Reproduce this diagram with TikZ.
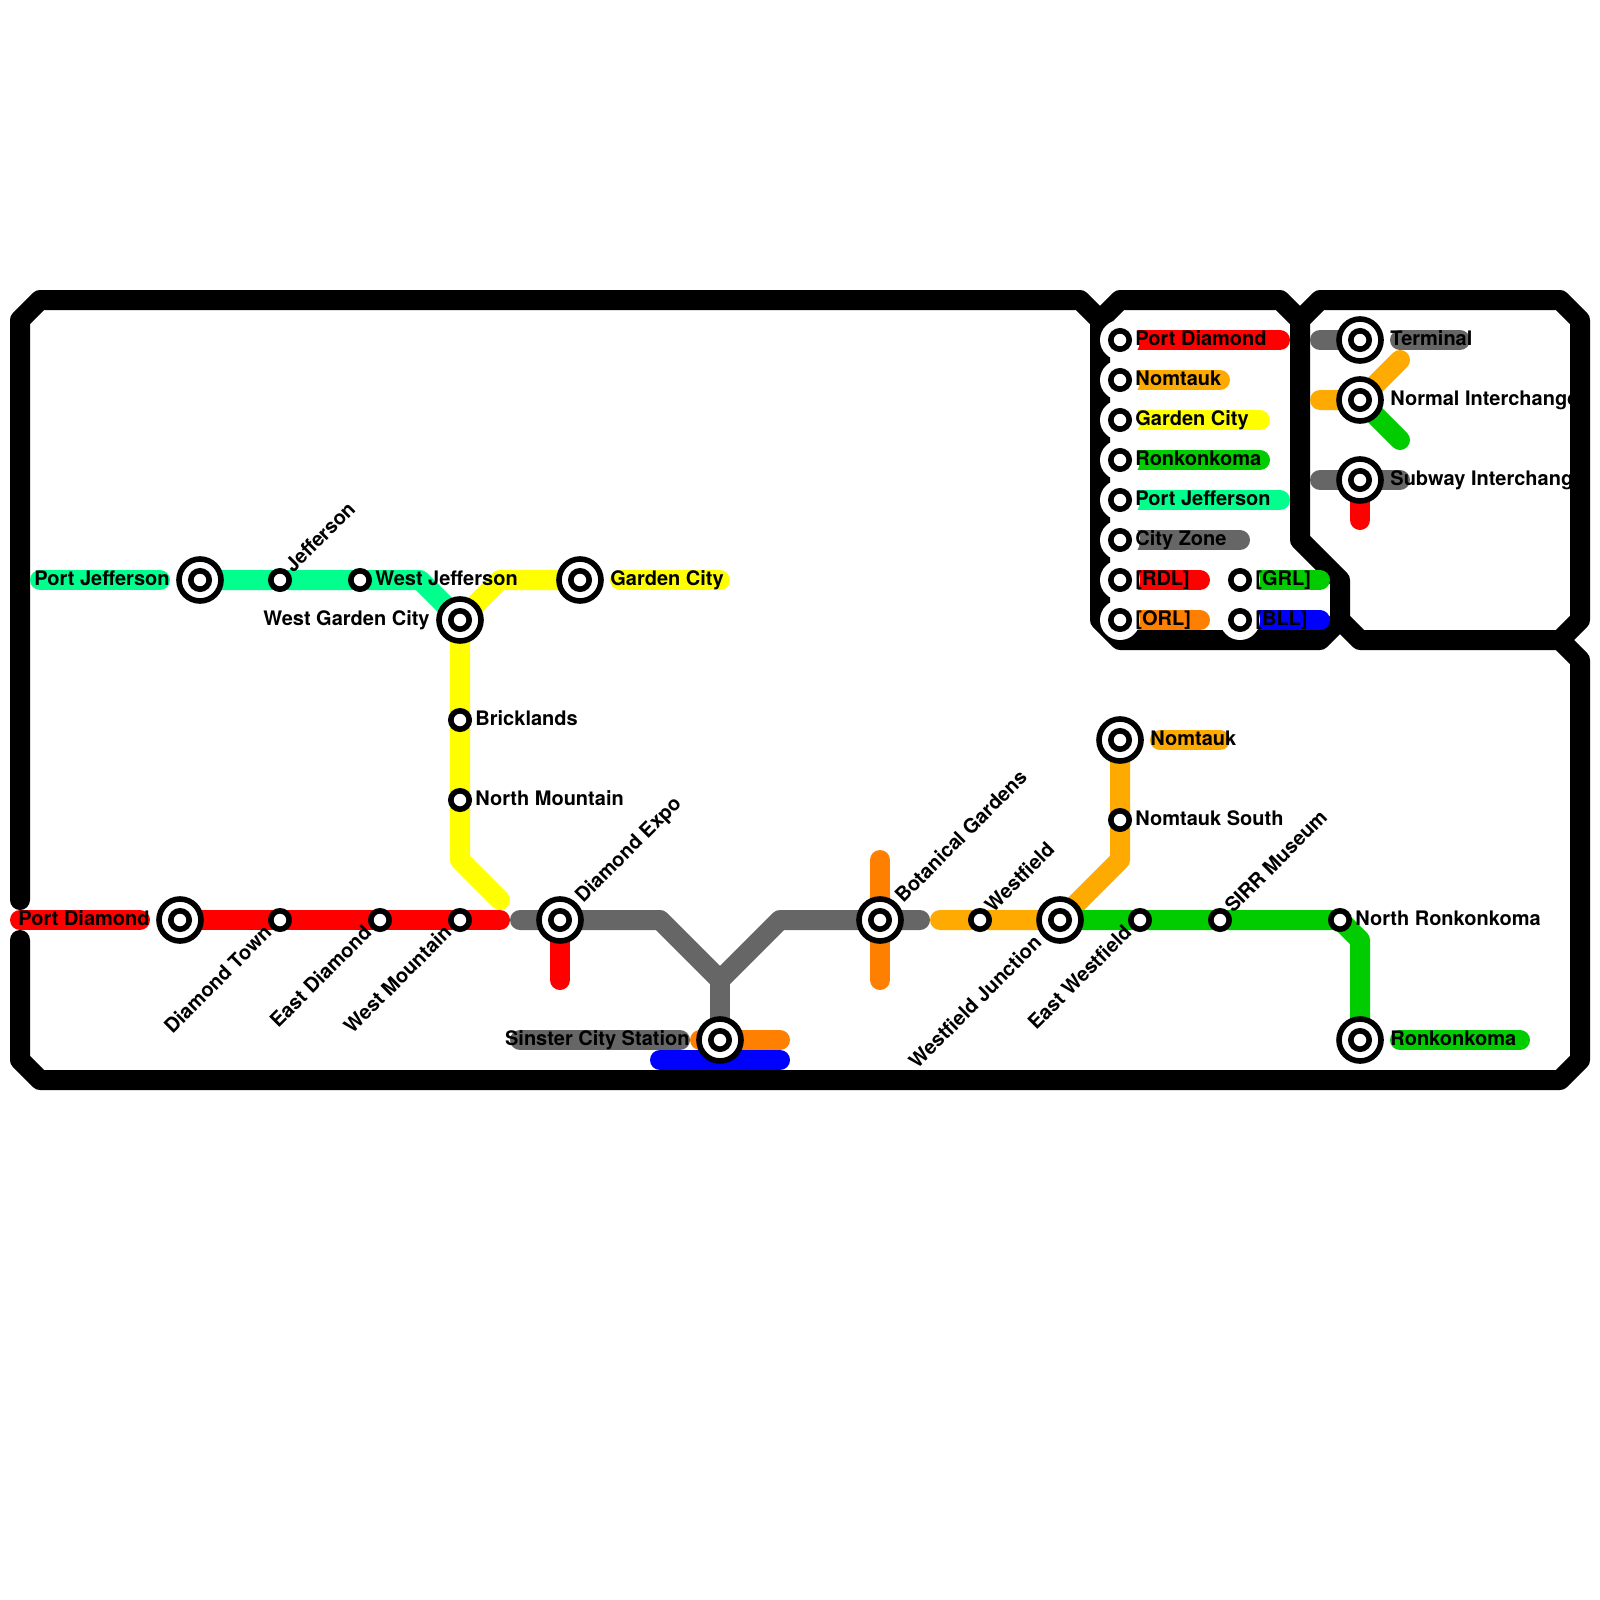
\documentclass[tikz,border=0pt]{standalone}
\usepackage{fontspec}
\setmainfont{TeX Gyre Heros}
\usetikzlibrary{backgrounds}
\definecolor{lineJefferson}{RGB}{0,255,140}
\definecolor{lineGarden}{RGB}{255,255,0}
\definecolor{lineDiamond}{RGB}{255,0,0}
\definecolor{lineCity}{RGB}{102,102,102}
\definecolor{lineBotanic}{RGB}{255,127,0}
\definecolor{lineNomtauk}{RGB}{255,170,0}
\definecolor{lineRonkonkoma}{RGB}{0,204,0}
\definecolor{lineBlue}{RGB}{0,0,255}

\begin{document}
\begin{tikzpicture}[
    x=0.5pt, y=-0.5pt,
    route/.style={line width=10pt, line cap=round, line join=round},
    halo/.style={circle, fill=white, inner sep=0pt, outer sep=0pt, minimum size=20pt},
    stop/.style={circle, draw=black, fill=white, line width=2.8pt, inner sep=0pt, outer sep=0pt, minimum size=9.2pt},
    hub/.style={circle, draw=black, fill=white, line width=2.8pt, inner sep=0pt, outer sep=0pt, minimum size=21pt},
    lbl/.style={inner sep=0pt, anchor=base west, font=\fontsize{10}{12}\selectfont\bfseries},
    lblr/.style={lbl, anchor=base east},
    lbldiag/.style={lbl, rotate=45},
    lblrdiag/.style={lblr, rotate=45}
]
  \useasboundingbox (0,0) rectangle (1600,1600);

  % Free ends and bends
  \coordinate (jeffEnd) at (40,580);
  \coordinate (jeffEndB) at (160,580);
  \coordinate (jeffBend) at (420,580);
  \coordinate (gardenBend) at (500,580);
  \coordinate (gardenEnd) at (620,580);
  \coordinate (gardenEndB) at (720,580);
  \coordinate (yellowBend) at (460,860);
  \coordinate (yellowEnd) at (500,900);
  \coordinate (redEnd) at (20,920);
  \coordinate (redEndB) at (140,920);
  \coordinate (redEndC) at (500,920);
  \coordinate (redStub) at (560,980);
  \coordinate (grayEnd) at (520,920);
  \coordinate (grayBendA) at (660,920);
  \coordinate (grayFork) at (720,980);
  \coordinate (grayBendB) at (780,920);
  \coordinate (grayEndB) at (920,920);
  \coordinate (sinsterEnd) at (520,1040);
  \coordinate (sinsterEndB) at (680,1040);
  \coordinate (orangeEnd) at (700,1040);
  \coordinate (orangeEndB) at (780,1040);
  \coordinate (blueEnd) at (660,1060);
  \coordinate (blueEndB) at (780,1060);
  \coordinate (botTop) at (880,860);
  \coordinate (botBottom) at (880,980);
  \coordinate (amberEnd) at (940,920);
  \coordinate (amberBend) at (1120,860);
  \coordinate (nomEnd) at (1160,740);
  \coordinate (nomEndB) at (1220,740);
  \coordinate (greenBend) at (1360,940);
  \coordinate (ronEnd) at (1400,1040);
  \coordinate (ronEndB) at (1520,1040);

  % Key ends
  \coordinate (keyRedEnd) at (1280,340);
  \coordinate (keyAmberEnd) at (1220,380);
  \coordinate (keyYellowEnd) at (1260,420);
  \coordinate (keyGreenEnd) at (1260,460);
  \coordinate (keyJeffEnd) at (1280,500);
  \coordinate (keyGrayEnd) at (1240,540);
  \coordinate (keyRdlEnd) at (1200,580);
  \coordinate (keyOrlEnd) at (1200,620);
  \coordinate (keyGrlEnd) at (1320,580);
  \coordinate (keyBllEnd) at (1320,620);
  \coordinate (termEnd) at (1320,340);
  \coordinate (termEndB) at (1400,340);
  \coordinate (termEndC) at (1460,340);
  \coordinate (normEnd) at (1320,400);
  \coordinate (normUp) at (1400,360);
  \coordinate (normDown) at (1400,440);
  \coordinate (subwayEnd) at (1320,480);
  \coordinate (subwayEndB) at (1400,480);
  \coordinate (subwayStub) at (1360,520);

  % Interchanges
  \node[hub] (hJefferson) at (200,580) {};
  \node[stop] at (hJefferson) {};
  \node[hub] (hWestGarden) at (460,620) {};
  \node[stop] at (hWestGarden) {};
  \node[hub] (hGarden) at (580,580) {};
  \node[stop] at (hGarden) {};
  \node[hub] (hDiamond) at (180,920) {};
  \node[stop] at (hDiamond) {};
  \node[hub] (hExpo) at (560,920) {};
  \node[stop] at (hExpo) {};
  \node[hub] (hSinster) at (720,1040) {};
  \node[stop] at (hSinster) {};
  \node[hub] (hBotanical) at (880,920) {};
  \node[stop] at (hBotanical) {};
  \node[hub] (hJunction) at (1060,920) {};
  \node[stop] at (hJunction) {};
  \node[hub] (hNomtauk) at (1120,740) {};
  \node[stop] at (hNomtauk) {};
  \node[hub] (hRonkonkoma) at (1360,1040) {};
  \node[stop] at (hRonkonkoma) {};
  \node[hub] (hTerminal) at (1360,340) {};
  \node[stop] at (hTerminal) {};
  \node[hub] (hNormal) at (1360,400) {};
  \node[stop] at (hNormal) {};
  \node[hub] (hSubway) at (1360,480) {};
  \node[stop] at (hSubway) {};

  % Stations
  \node[stop] (sJefferson) at (280,580) {};
  \node[stop] (sWestJefferson) at (360,580) {};
  \node[stop] (sBricklands) at (460,720) {};
  \node[stop] (sNorthMountain) at (460,800) {};
  \node[stop] (sDiamondTown) at (280,920) {};
  \node[stop] (sEastDiamond) at (380,920) {};
  \node[stop] (sWestMountain) at (460,920) {};
  \node[stop] (sWestfield) at (980,920) {};
  \node[stop] (sEastWestfield) at (1140,920) {};
  \node[stop] (sMuseum) at (1220,920) {};
  \node[stop] (sNorthRon) at (1340,920) {};
  \node[stop] (sNomSouth) at (1120,820) {};

  % Key stations
  \node[halo] (kRedHalo) at (1120,340) {};
  \node[halo] (kAmberHalo) at (1120,380) {};
  \node[halo] (kYellowHalo) at (1120,420) {};
  \node[halo] (kGreenHalo) at (1120,460) {};
  \node[halo] (kJeffHalo) at (1120,500) {};
  \node[halo] (kGrayHalo) at (1120,540) {};
  \node[halo] (kRdlHalo) at (1120,580) {};
  \node[halo] (kOrlHalo) at (1120,620) {};
  \node[halo] (kGrlHalo) at (1240,580) {};
  \node[halo] (kBllHalo) at (1240,620) {};
  \node[stop] (kRed) at (kRedHalo) {};
  \node[stop] (kAmber) at (kAmberHalo) {};
  \node[stop] (kYellow) at (kYellowHalo) {};
  \node[stop] (kGreen) at (kGreenHalo) {};
  \node[stop] (kJeff) at (kJeffHalo) {};
  \node[stop] (kGray) at (kGrayHalo) {};
  \node[stop] (kRdl) at (kRdlHalo) {};
  \node[stop] (kOrl) at (kOrlHalo) {};
  \node[stop] (kGrl) at (kGrlHalo) {};
  \node[stop] (kBll) at (kBllHalo) {};

  \begin{scope}[on background layer]
    % Frame
    \draw[route] (20,900) -- (20,320) -- (40,300) -- (1080,300) -- (1100,320) -- (1100,620) -- (1120,640)
      -- (1320,640) -- (1340,620) -- (1340,580) -- (1300,540) -- (1300,320) -- (1280,300) -- (1120,300) -- (1100,320);
    \draw[route] (1300,320) -- (1320,300) -- (1560,300) -- (1580,320) -- (1580,620) -- (1560,640) -- (1360,640) -- (1340,620);
    \draw[route] (1560,640) -- (1580,660) -- (1580,1060) -- (1560,1080) -- (40,1080) -- (20,1060) -- (20,940);

    % Lines
    \draw[route, lineJefferson] (jeffEnd) -- (jeffEndB);
    \draw[route, lineJefferson] (hJefferson.center) -- (sJefferson.center) -- (sWestJefferson.center) -- (jeffBend) -- (hWestGarden.center);
    \draw[route, lineGarden] (hWestGarden.center) -- (gardenBend) -- (hGarden.center);
    \draw[route, lineGarden] (gardenEnd) -- (gardenEndB);
    \draw[route, lineGarden] (hWestGarden.center) -- (sBricklands.center) -- (sNorthMountain.center) -- (yellowBend) -- (yellowEnd);
    \draw[route, lineDiamond] (redEnd) -- (redEndB);
    \draw[route, lineDiamond] (hDiamond.center) -- (sDiamondTown.center) -- (sEastDiamond.center) -- (sWestMountain.center) -- (redEndC);
    \draw[route, lineDiamond] (hExpo.center) -- (redStub);
    \draw[route, lineBotanic] (botTop) -- (hBotanical.center) -- (botBottom);
    \draw[route, lineCity] (grayEnd) -- (hExpo.center) -- (grayBendA) -- (grayFork) -- (grayBendB) -- (hBotanical.center) -- (grayEndB);
    \draw[route, lineCity] (grayFork) -- (hSinster.center);
    \draw[route, lineCity] (sinsterEnd) -- (sinsterEndB);
    \draw[route, lineBotanic] (orangeEnd) -- (orangeEndB);
    \draw[route, lineBlue] (blueEnd) -- (blueEndB);
    \draw[route, lineNomtauk] (amberEnd) -- (sWestfield.center) -- (hJunction.center) -- (amberBend) -- (sNomSouth.center) -- (hNomtauk.center);
    \draw[route, lineNomtauk] (nomEnd) -- (nomEndB);
    \draw[route, lineRonkonkoma] (hJunction.center) -- (sEastWestfield.center) -- (sMuseum.center) -- (sNorthRon.center) -- (greenBend) -- (hRonkonkoma.center);
    \draw[route, lineRonkonkoma] (ronEnd) -- (ronEndB);

    % Key lines
    \draw[route, lineDiamond] (kRed.center) -- (keyRedEnd);
    \draw[route, lineNomtauk] (kAmber.center) -- (keyAmberEnd);
    \draw[route, lineGarden] (kYellow.center) -- (keyYellowEnd);
    \draw[route, lineRonkonkoma] (kGreen.center) -- (keyGreenEnd);
    \draw[route, lineJefferson] (kJeff.center) -- (keyJeffEnd);
    \draw[route, lineCity] (kGray.center) -- (keyGrayEnd);
    \draw[route, lineDiamond] (kRdl.center) -- (keyRdlEnd);
    \draw[route, lineBotanic] (kOrl.center) -- (keyOrlEnd);
    \draw[route, lineRonkonkoma] (kGrl.center) -- (keyGrlEnd);
    \draw[route, lineBlue] (kBll.center) -- (keyBllEnd);
    \draw[route, lineCity] (termEnd) -- (hTerminal.center);
    \draw[route, lineCity] (termEndB) -- (termEndC);
    \draw[route, lineNomtauk] (normEnd) -- (hNormal.center) -- (normUp);
    \draw[route, lineRonkonkoma] (hNormal.center) -- (normDown);
    \draw[route, lineCity] (subwayEnd) -- (subwayEndB);
    \draw[route, lineDiamond] (hSubway.center) -- (subwayStub);
  \end{scope}

  % Station names
  \node[lblr] (tPortJefferson) at (170,585) {Port Jefferson};
  \node[lbldiag] (tJefferson) at (293,574) {Jefferson};
  \node[lbl] (tWestJefferson) at (375,585) {West Jefferson};
  \node[lblr] (tWestGarden) at (430,625) {West Garden City};
  \node[lbl] (tGarden) at (610,585) {Garden City};
  \node[lbl] (tBricklands) at (475,725) {Bricklands};
  \node[lbl] (tNorthMountain) at (475,805) {North Mountain};
  \node[lblr] (tPortDiamond) at (150,925) {Port Diamond};
  \node[lblrdiag] (tDiamondTown) at (273,934) {Diamond Town};
  \node[lblrdiag] (tEastDiamond) at (373,934) {East Diamond};
  \node[lblrdiag] (tWestMountain) at (453,934) {West Mountain};
  \node[lbldiag] (tExpo) at (583,904) {Diamond Expo};
  \node[lblr] (tSinster) at (690,1045) {Sinster City Station};
  \node[lbldiag] (tBotanical) at (903,904) {Botanical Gardens};
  \node[lbldiag] (tWestfield) at (993,914) {Westfield};
  \node[lblrdiag] (tJunction) at (1043,944) {Westfield Junction};
  \node[lblrdiag] (tEastWestfield) at (1133,934) {East Westfield};
  \node[lbldiag] (tMuseum) at (1233,914) {SIRR Museum};
  \node[lbl] (tNorthRon) at (1355,925) {North Ronkonkoma};
  \node[lbl] (tRonkonkoma) at (1390,1045) {Ronkonkoma};
  \node[lbl] (tNomtauk) at (1150,745) {Nomtauk};
  \node[lbl] (tNomSouth) at (1135,825) {Nomtauk South};

  % Key names
  \node[lbl] (tKeyRed) at (1135,345) {Port Diamond};
  \node[lbl] (tKeyAmber) at (1135,385) {Nomtauk};
  \node[lbl] (tKeyYellow) at (1135,425) {Garden City};
  \node[lbl] (tKeyGreen) at (1135,465) {Ronkonkoma};
  \node[lbl] (tKeyJeff) at (1135,505) {Port Jefferson};
  \node[lbl] (tKeyGray) at (1135,545) {City Zone};
  \node[lbl] (tKeyRdl) at (1135,585) {[RDL]};
  \node[lbl] (tKeyOrl) at (1135,625) {[ORL]};
  \node[lbl] (tKeyGrl) at (1255,585) {[GRL]};
  \node[lbl] (tKeyBll) at (1255,625) {[BLL]};
  \node[lbl] (tTerminal) at (1390,345) {Terminal};
  \node[lbl] (tNormal) at (1390,405) {Normal Interchange};
  \node[lbl] (tSubway) at (1390,485) {Subway Interchange};
\end{tikzpicture}
\end{document}
